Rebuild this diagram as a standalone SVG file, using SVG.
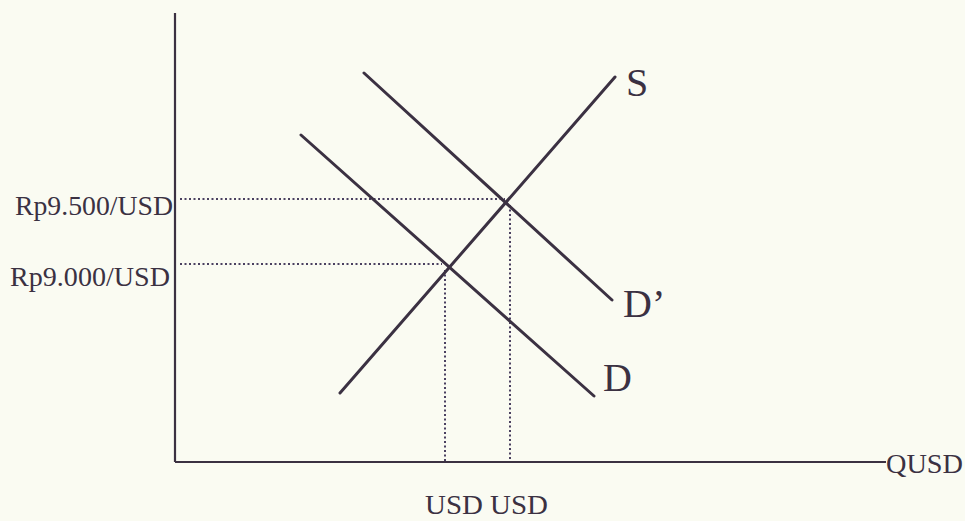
<svg xmlns="http://www.w3.org/2000/svg" width="965" height="521" viewBox="0 0 965 521">
<style>
.ax{stroke:#3b3142;stroke-width:2.2;fill:none}
.cv{stroke:#3b3142;stroke-width:3;fill:none;stroke-linecap:round}
.dt{stroke:#4a4060;stroke-width:2;fill:none;stroke-dasharray:2 2.5}
text{font-family:"Liberation Serif","Times New Roman",serif;fill:#3b3142}
.lb{font-size:27px}
.cl{font-size:40px}
</style>
<rect width="965" height="521" fill="#fafbf2"/>
<g id="connectors">
<line class="ax" x1="175" y1="13" x2="175" y2="462"/>
<line class="ax" x1="175" y1="462" x2="886" y2="462"/>
<line class="dt" x1="180" y1="199" x2="505" y2="199"/>
<line class="dt" x1="510" y1="205" x2="510" y2="461"/>
<line class="dt" x1="180" y1="264" x2="442" y2="264"/>
<line class="dt" x1="445" y1="270" x2="445" y2="461"/>
</g>
<g id="curve-S"><line class="cv" x1="340" y1="393" x2="615" y2="77"/><text class="cl" x="626" y="96">S</text></g>
<g id="curve-D2"><line class="cv" x1="364" y1="73" x2="612" y2="300"/><text class="cl" x="623" y="317">D’</text></g>
<g id="curve-D"><line class="cv" x1="301" y1="135" x2="594" y2="396"/><text class="cl" x="603" y="391">D</text></g>
<g id="label-9500"><text class="lb" x="15" y="215" textLength="158" lengthAdjust="spacingAndGlyphs">Rp9.500/USD</text></g>
<g id="label-9000"><text class="lb" x="10" y="286" textLength="160" lengthAdjust="spacingAndGlyphs">Rp9.000/USD</text></g>
<g id="label-usd"><text class="lb" x="425" y="514" textLength="123" lengthAdjust="spacingAndGlyphs">USD USD</text></g>
<g id="label-qusd"><text class="lb" x="886" y="473" textLength="77" lengthAdjust="spacingAndGlyphs">QUSD</text></g>
</svg>
